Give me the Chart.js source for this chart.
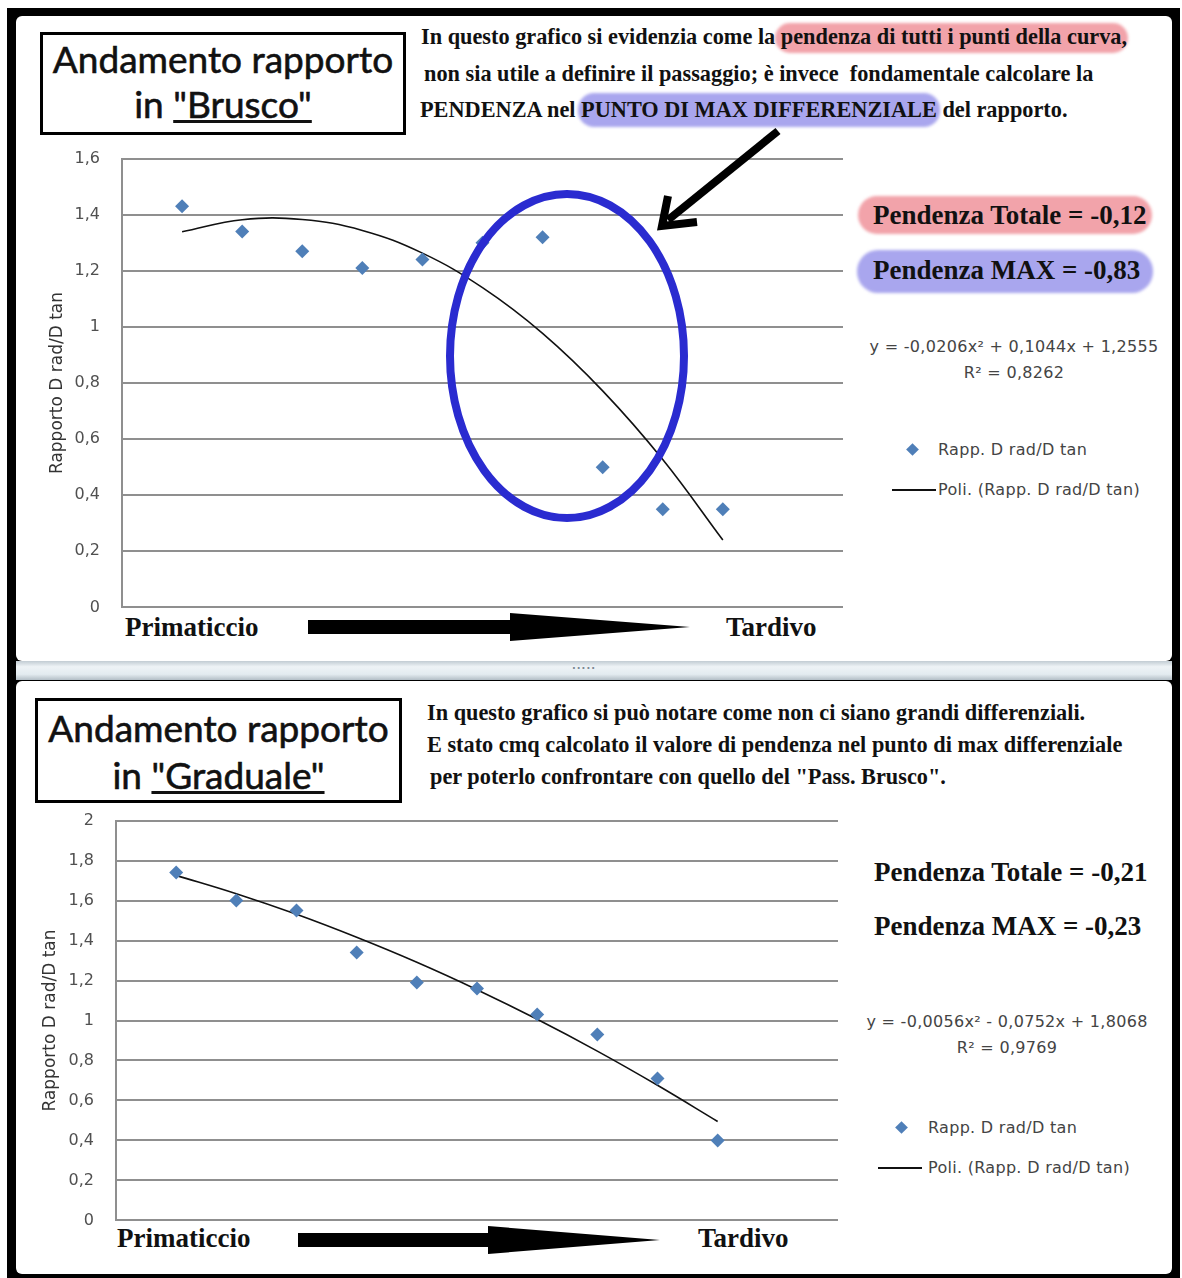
<!DOCTYPE html>
<html>
<head>
<meta charset="utf-8">
<script src="https://cdn.jsdelivr.net/npm/chart.js@4.4.1/dist/chart.umd.min.js"></script>
<style>
  body { margin: 0; width: 1182px; height: 1278px; background: #fff; position: relative; overflow: hidden; }
  .abs { position: absolute; }
  .frame { left: 7px; top: 8px; width: 1173px; height: 1270px; background: #000; }
  .panel { background: #fff; border-radius: 6px; }
  .sash { left: 16px; top: 661px; width: 1156px; height: 19px;
          background: linear-gradient(#c2ccd3, #eef3f6 30%, #e3ebf0 70%, #b3bec6); }
  .dots { left: 572px; top: 660px; font: bold 10px "DejaVu Sans", sans-serif; color: #7d8a94; letter-spacing: 1px; }
  .tbox { border: 3px solid #000; background: #fff; box-sizing: border-box; }
  .ttl { font-family: Lato, "Open Sans", sans-serif; font-size: 37px; color: #111; -webkit-text-stroke: 0.6px #111;
         white-space: nowrap; line-height: 44px; text-align: center; width: 100%; left: 0; }
  .para { font-family: "Liberation Serif", serif; font-weight: bold; font-size: 22.3px;
          line-height: 30px; white-space: nowrap; color: #111; }
  .big { font-family: "Liberation Serif", serif; font-weight: bold; font-size: 27px;
         line-height: 34px; white-space: nowrap; color: #111; }
  .hl { border-radius: 16px; filter: blur(1.5px); }
  .pink { background: #f2a3aa; }
  .blue { background: #a9a6ee; }
  .eq { font-family: "DejaVu Sans", sans-serif; font-size: 16px; letter-spacing: 0.3px; line-height: 26px;
        color: #444; white-space: nowrap; text-align: center; width: 340px; }
  .leg { font-family: "DejaVu Sans", sans-serif; font-size: 16px; letter-spacing: 0.3px; line-height: 24px;
         color: #444; white-space: nowrap; }
  .dia { width: 9px; height: 9px; background: #4f7fb8; transform: rotate(45deg); }
  .legline { height: 2px; background: #111; }
  canvas { position: absolute; }
  svg { position: absolute; left: 0; top: 0; pointer-events: none; }
</style>
</head>
<body>
<div class="abs frame"></div>
<div class="abs panel" style="left:16px;top:16px;width:1156px;height:645px;"></div>
<div class="abs sash"></div>
<div class="abs dots">.....</div>
<div class="abs panel" style="left:16px;top:681px;width:1156px;height:593px;"></div>

<!-- top panel texts -->
<div class="abs tbox" style="left:40px;top:32px;width:366px;height:103px;">
  <div class="abs ttl" style="top:2px;">Andamento rapporto</div>
  <div class="abs ttl" style="top:47px;">in <u>"Brusco"</u></div>
</div>
<div class="abs hl pink" style="left:775px;top:23px;width:353px;height:30px;"></div>
<div class="abs hl blue" style="left:578px;top:93px;width:362px;height:34px;"></div>
<div class="abs para" style="left:421px;top:22px;">In questo grafico si evidenzia come la pendenza di tutti i punti della curva,</div>
<div class="abs para" style="left:424px;top:59px;">non sia utile a definire il passaggio; è invece&nbsp; fondamentale calcolare la</div>
<div class="abs para" style="left:420px;top:95px;">PENDENZA nel PUNTO DI MAX DIFFERENZIALE del rapporto.</div>

<div class="abs hl pink" style="left:858px;top:196px;width:294px;height:38px;border-radius:19px;"></div>
<div class="abs hl blue" style="left:857px;top:250px;width:296px;height:43px;border-radius:21px;"></div>
<div class="abs big" style="left:873px;top:198px;">Pendenza Totale = -0,12</div>
<div class="abs big" style="left:873px;top:253px;">Pendenza MAX = -0,83</div>

<div class="abs eq" style="left:844px;top:334px;">y = -0,0206x² + 0,1044x + 1,2555</div>
<div class="abs eq" style="left:844px;top:360px;">R² = 0,8262</div>
<div class="abs dia" style="left:908px;top:445px;"></div>
<div class="abs leg" style="left:938px;top:438px;">Rapp. D rad/D tan</div>
<div class="abs legline" style="left:892px;top:489px;width:44px;"></div>
<div class="abs leg" style="left:938px;top:478px;">Poli. (Rapp. D rad/D tan)</div>

<div class="abs big" style="left:125px;top:610px;">Primaticcio</div>
<div class="abs big" style="left:726px;top:610px;">Tardivo</div>

<!-- bottom panel texts -->
<div class="abs tbox" style="left:35px;top:698px;width:367px;height:105px;">
  <div class="abs ttl" style="top:5px;">Andamento rapporto</div>
  <div class="abs ttl" style="top:52px;">in <u>"Graduale"</u></div>
</div>
<div class="abs para" style="left:427px;top:698px;">In questo grafico si può notare come non ci siano grandi differenziali.</div>
<div class="abs para" style="left:427px;top:730px;">E stato cmq calcolato il valore di pendenza nel punto di max differenziale</div>
<div class="abs para" style="left:430px;top:762px;">per poterlo confrontare con quello del "Pass. Brusco".</div>

<div class="abs big" style="left:874px;top:855px;">Pendenza Totale = -0,21</div>
<div class="abs big" style="left:874px;top:909px;">Pendenza MAX = -0,23</div>

<div class="abs eq" style="left:837px;top:1009px;">y = -0,0056x² - 0,0752x + 1,8068</div>
<div class="abs eq" style="left:837px;top:1035px;">R² = 0,9769</div>
<div class="abs dia" style="left:897px;top:1123px;"></div>
<div class="abs leg" style="left:928px;top:1116px;">Rapp. D rad/D tan</div>
<div class="abs legline" style="left:878px;top:1167px;width:44px;"></div>
<div class="abs leg" style="left:928px;top:1156px;">Poli. (Rapp. D rad/D tan)</div>

<div class="abs big" style="left:117px;top:1221px;">Primaticcio</div>
<div class="abs big" style="left:698px;top:1221px;">Tardivo</div>

<canvas id="bruscoChart" width="840" height="512" style="left:16px;top:127px;"></canvas>
<canvas id="gradualeChart" width="840" height="463" style="left:16px;top:789px;"></canvas>

<svg width="1182" height="1278">
  <!-- circled region and pointer arrow -->
  <ellipse cx="567" cy="356" rx="117" ry="162" fill="none" stroke="#2a2bd0" stroke-width="8"/>
  <line x1="778" y1="131" x2="668" y2="220" stroke="#000" stroke-width="8"/>
  <polyline points="668,196 662,226 697,222" fill="none" stroke="#000" stroke-width="8" stroke-linejoin="miter"/>
  <!-- direction arrows -->
  <rect x="308" y="620" width="205" height="14" fill="#000"/>
  <polygon points="510,613 510,641 690,627" fill="#000"/>
  <rect x="298" y="1233" width="193" height="14" fill="#000"/>
  <polygon points="488,1226 488,1254 660,1240" fill="#000"/>
</svg>

<script>
// x position along the ripening axis (Primaticcio -> Tardivo)
const xPos = [1, 2, 3, 4, 5, 6, 7, 8, 9, 10];

// "Brusco" ratios and polynomial trendline
const bruscoRatio = [1.43, 1.34, 1.27, 1.21, 1.24, 1.30, 1.32, 0.50, 0.35, 0.35];
const bruscoTrend = [1.339, 1.382, 1.383, 1.344, 1.263, 1.140, 0.977, 0.772, 0.527, 0.240];

// "Graduale" ratios and polynomial trendline
const gradualeRatio = [1.74, 1.60, 1.55, 1.34, 1.19, 1.16, 1.03, 0.93, 0.71, 0.40];
const gradualeTrend = [1.726, 1.634, 1.531, 1.416, 1.291, 1.154, 1.006, 0.847, 0.676, 0.495];

// axis ranges
const xRange = [0, 12];
const bruscoYMax = 1.6;
const gradualeYMax = 2;
const yStep = 0.2;

const yTitle = 'Rapporto D rad/D tan';
const seriesLabel = 'Rapp. D rad/D tan';
const trendLabel = 'Poli. (Rapp. D rad/D tan)';

function toPoints(values) {
    return xPos.map((x, i) => ({x: x, y: values[i]}));
}

// Config builder, both charts share the same look
function buildConfig(ratio, trend, yMax, axisWidth, titlePad, padding) {
    return {
        type: 'scatter',
        data: {
            datasets: [{
                label: seriesLabel,
                data: toPoints(ratio),
                pointStyle: 'rectRot',
                pointRadius: 7,
                pointBorderWidth: 0,
                backgroundColor: '#4f7fb8',
                borderColor: '#4f7fb8'
            }, {
                type: 'line',
                label: trendLabel,
                data: toPoints(trend),
                borderColor: '#111',
                borderWidth: 1.6,
                pointRadius: 0,
                tension: 0.4,
                fill: false
            }]  // End datasets
        },
        options: {
            responsive: false,
            animation: false,
            layout: { padding: padding, autoPadding: false },
            plugins: {
                legend: { display: false },
                tooltip: { enabled: false }
            },  // End plugins
            scales: {
                x: {
                    type: 'linear',
                    min: xRange[0],
                    max: xRange[1],
                    ticks: { display: false },
                    grid: { display: false, drawTicks: false },
                    border: { display: false },
                    afterFit(scale) { scale.height = 0; }
                },
                y: {
                    min: 0,
                    max: yMax,
                    ticks: {
                        stepSize: yStep,
                        padding: 22,
                        color: '#505050',
                        font: { family: 'DejaVu Sans', size: 16 },
                        callback: v => (Math.round(v * 10) / 10).toString().replace('.', ',')
                    },
                    grid: { color: '#8f8f8f', lineWidth: 2, drawTicks: false },
                    border: { display: true, color: '#8f8f8f', width: 2 },
                    title: {
                        display: true,
                        text: yTitle,
                        color: '#333',
                        font: { family: 'DejaVu Sans', size: 17 },
                        padding: { top: titlePad, bottom: 0 }
                    },
                    afterFit(scale) { scale.width = axisWidth; }
                }
            }
        }  // End options
    };  // End config
}

new Chart(
    document.getElementById('bruscoChart'),
    buildConfig(bruscoRatio, bruscoTrend, bruscoYMax, 106, 31, {top: 17, right: 13, bottom: 14, left: 0})
);

new Chart(
    document.getElementById('gradualeChart'),
    buildConfig(gradualeRatio, gradualeTrend, gradualeYMax, 100, 24, {top: 20, right: 18, bottom: 16, left: 0})
);
</script>
</body>
</html>
